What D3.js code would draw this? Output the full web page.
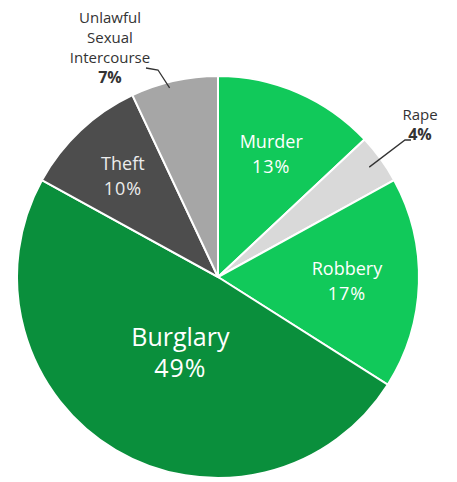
<!DOCTYPE html>
<html><head><meta charset="utf-8">
<script src="https://cdn.jsdelivr.net/npm/d3@7"></script>
<style>body{margin:0;background:#fff}svg{display:block}text{font-family:"Open Sans",Lato,sans-serif}</style>
</head><body>
<svg id="c" width="457" height="482"></svg>
<script>
const categories = ["Murder","Rape","Robbery","Burglary","Theft","Unlawful Sexual Intercourse"];
const values = [13,4,17,49,10,7];
const colors = ["#11c95a","#d9d9d9","#11c95a","#0a8f3c","#4d4d4d","#a6a6a6"];
const labelLines = [["Murder"],["Rape"],["Robbery"],["Burglary"],["Theft"],["Unlawful","Sexual","Intercourse"]];

const svg = d3.select("#c");
const cx = 218, cy = 277, R = 201;
const g = svg.append("g").attr("transform",`translate(${cx},${cy})`);
const data = categories.map((c,i)=>({cat:c,value:values[i],color:colors[i],lines:labelLines[i]}));
const pie = d3.pie().sort(null).value(d=>d.value);
const arcs = pie(data);
const arc = d3.arc().innerRadius(0).outerRadius(R);
g.selectAll("path").data(arcs).join("path")
  .attr("d",arc).attr("fill",d=>d.data.color)
  .attr("stroke","#fff").attr("stroke-width",2);

// inside labels
const inside = {"Murder":{r:134,fs:18,gap:25,col:"#fff"},"Robbery":{r:129,fs:18,gap:25,col:"#fff"},"Burglary":{r:84,fs:25,gap:31,shift:-4,col:"#fff"},"Theft":{r:139,fs:18,gap:25,col:"#ececec"}};
arcs.forEach(a=>{
  const cfg = inside[a.data.cat]; if(!cfg) return;
  const mid = (a.startAngle+a.endAngle)/2 + (cfg.shift||0)*Math.PI/180;
  const x = Math.sin(mid)*cfg.r, y = -Math.cos(mid)*cfg.r;
  const t = g.append("text").attr("text-anchor","middle").attr("fill",cfg.col).attr("font-size",cfg.fs);
  t.append("tspan").attr("x",x).attr("y",y - cfg.gap/2 + cfg.fs*0.36).text(a.data.lines[0]);
  t.append("tspan").attr("x",x).attr("y",y + cfg.gap/2 + cfg.fs*0.36).attr("letter-spacing",1).text(a.data.value+"%");
});

// outside labels
const lineColor = "#333";
function outside(a, lx, ly, lines, pts){
  const t = svg.append("text").attr("text-anchor","middle").attr("fill","#333").attr("font-size",15);
  lines.forEach((l,i)=>t.append("tspan").attr("x",lx).attr("y",ly+i*20).text(l));
  t.append("tspan").attr("x",lx).attr("y",ly+lines.length*20).attr("font-weight","bold").attr("font-size",16).text(a.data.value+"%");
  svg.append("path").attr("d",d3.line()(pts)).attr("fill","none").attr("stroke",lineColor).attr("stroke-width",1.3);
}
const aRape = arcs[1], aUSI = arcs[5];
const pR = d3.arc().innerRadius(R*0.93).outerRadius(R*0.93).centroid(aRape);
outside(aRape, 420, 120, aRape.data.lines, [[cx+pR[0],cy+pR[1]],[405,140],[411,140]]);
const pU = d3.arc().innerRadius(R*0.99).outerRadius(R*0.99).centroid(aUSI);
outside(aUSI, 110, 23, aUSI.data.lines, [[146,68],[158,70],[cx+pU[0]-5,cy+pU[1]+5]]);
</script>
</body></html>
